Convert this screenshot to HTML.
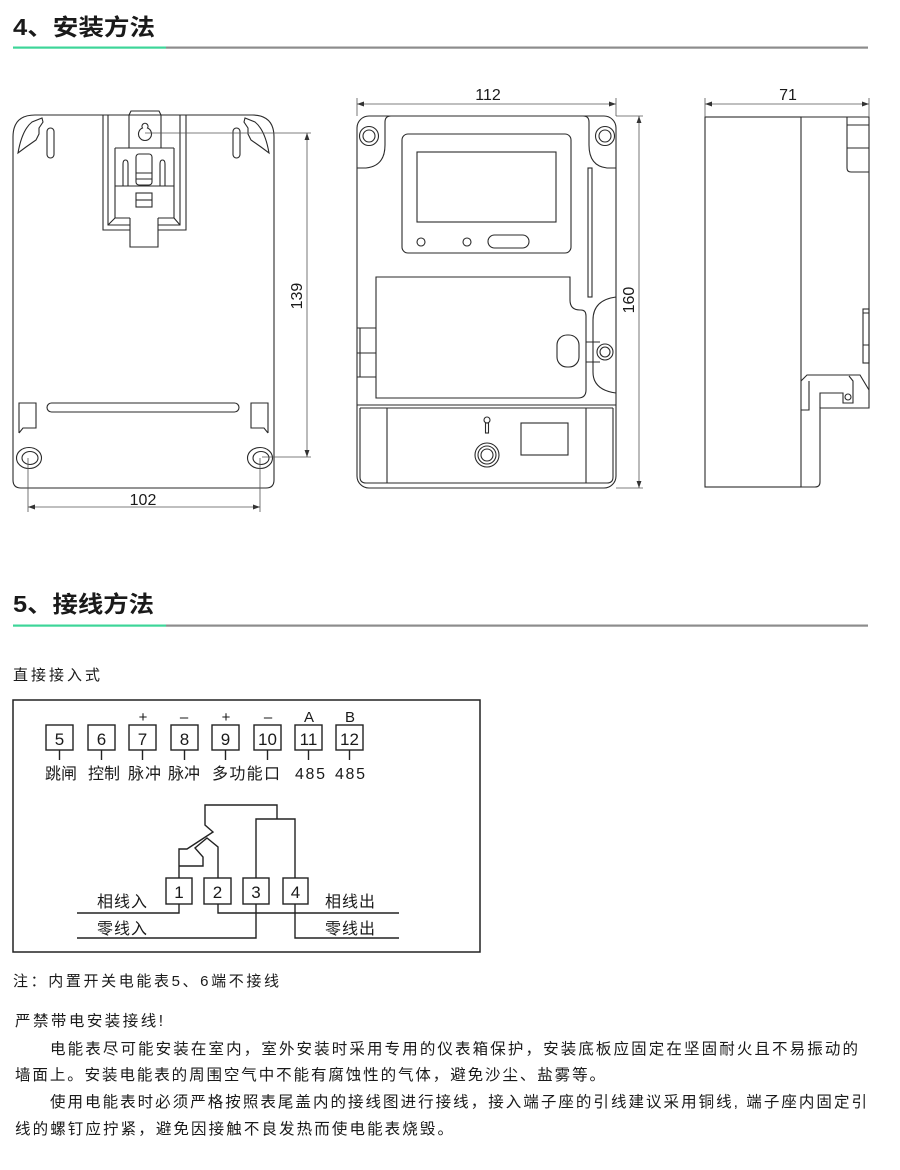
<!DOCTYPE html>
<html><head><meta charset="utf-8"><style>
html,body{margin:0;padding:0;background:#fff;}
svg{display:block;}
text{font-family:"Liberation Sans","Noto Sans CJK SC",sans-serif;fill:#1a1a1a;}
.d{fill:none;stroke:#2a2a2a;stroke-width:1.1;}
.m{fill:none;stroke:#555;stroke-width:0.8;}
.w{fill:none;stroke:#222;stroke-width:1.4;}
</style></head><body>
<svg width="900" height="1170" viewBox="0 0 900 1170" xmlns="http://www.w3.org/2000/svg">
<defs>
<marker id="ar" viewBox="0 0 10 10" refX="10" refY="5" markerWidth="7" markerHeight="7" orient="auto-start-reverse" markerUnits="userSpaceOnUse">
<path d="M0,1.5 L10,5 L0,8.5 Z" fill="#333"/>
</marker>
</defs>

<!-- Heading 4 -->
<text x="13" y="35" font-size="23" font-weight="bold" textLength="142" lengthAdjust="spacingAndGlyphs">4、安装方法</text>
<rect x="13" y="46.5" width="153" height="2.2" fill="#3dd598"/>
<rect x="166" y="46.5" width="702" height="2.2" fill="#8c8c8c"/>

<!-- LEFT DRAWING -->
<g class="d">
<path d="M13,137 Q13,115 35,115 L252,115 Q274,115 274,137 L274,480 Q274,488 266,488 L21,488 Q13,488 13,480 Z"/>
<path d="M18,153 Q22,130 32,122 L42,118 L43,122 L39,128 L39,134 L36,140 L26,147 Z"/>
<path d="M269,153 Q265,130 255,122 L245,118 L244,122 L248,128 L248,134 L251,140 L261,147 Z"/>
<rect x="47" y="128" width="7" height="30" rx="3.5"/>
<rect x="233" y="128" width="7" height="30" rx="3.5"/>
<!-- clip -->
<path d="M103,115 L103,230 L130,230 M158,230 L186,230 L186,115"/>
<path d="M108,115 L108,225 L130,225 M158,225 L180,225 L180,115"/>
<path d="M115,148 L115,218 L130,218 M158,218 L174,218 L174,148 M115,148 L174,148"/>
<path d="M108,225 L115,218 M180,225 L174,218"/>
<path d="M129,148 L129,115 M161,115 L161,148 M129,115 L131,111 L159,111 L161,115"/>
<path d="M142.5,128 A3,3 0 1 1 147.5,128 A6.5,6.5 0 1 1 142.5,128 Z"/>
<path d="M123,186 L123,164 Q123,160 125.5,160 Q128,160 128,164 L128,186 M160,186 L160,164 Q160,160 162.5,160 Q165,160 165,164 L165,186 M115,186 L174,186"/>
<rect x="136" y="154" width="16" height="31" rx="3"/>
<path d="M136,173 L152,173 M136,179 L152,179"/>
<rect x="136" y="193" width="16" height="14"/>
<path d="M136,200 L152,200"/>
<path d="M130,218 L130,247 L158,247 L158,218"/>
<rect x="47" y="403" width="192" height="9" rx="4.5"/>
<path d="M19,433 L19,403 L36,403 L36,428 L23,428 L19,433"/>
<path d="M268,433 L268,403 L251,403 L251,428 L264,428 L268,433"/>
<ellipse cx="29" cy="458" rx="12.5" ry="10.5"/>
<ellipse cx="30" cy="458" rx="8" ry="6.5"/>
<ellipse cx="260" cy="458" rx="12.5" ry="10.5"/>
<ellipse cx="261" cy="458" rx="8" ry="6.5"/>
</g>
<g class="m">
<line x1="307" y1="133" x2="307" y2="457" marker-start="url(#ar)" marker-end="url(#ar)"/>
<path d="M145,133 L311,133 M262,457 L311,457"/>
<line x1="28" y1="507" x2="260" y2="507" marker-start="url(#ar)" marker-end="url(#ar)"/>
<path d="M28,458 L28,512 M260,458 L260,512"/>
</g>
<text x="296" y="302" font-size="16" text-anchor="middle" transform="rotate(-90 296 296)">139</text>
<text x="143" y="505" font-size="16" text-anchor="middle">102</text>

<!-- MIDDLE DRAWING -->
<g class="d">
<rect x="357" y="116" width="259" height="372" rx="12"/>
<path d="M357,168 L366,168 Q385,166 385,145 L385,122 Q385,116 391,116"/>
<path d="M616,168 L607,168 Q589,166 589,145 L589,122 Q589,116 583,116"/>
<circle cx="369" cy="136" r="9.5"/><circle cx="369" cy="136" r="6"/>
<circle cx="605" cy="136" r="9.5"/><circle cx="605" cy="136" r="6"/>
<rect x="402" y="134" width="169" height="119" rx="6"/>
<rect x="417" y="152" width="139" height="70"/>
<circle cx="421" cy="242" r="4"/>
<circle cx="467" cy="242" r="4"/>
<rect x="488" y="235" width="41" height="13" rx="6.5"/>
<rect x="588" y="168" width="4" height="129"/>
<path d="M376,277 L570,277 L570,300 Q570,310 580,310 L581,310 Q586,310 586,316 L586,390 Q586,398 578,398 L376,398 Z"/>
<rect x="557" y="335" width="22" height="32" rx="10"/>
<path d="M586,342 L600,342 M586,362 L600,362"/>
<circle cx="605" cy="352" r="8"/><circle cx="605" cy="352" r="5"/>
<path d="M616,297 Q593,300 593,320 L593,372 Q593,390 616,393"/>
<path d="M357,328 L376,328 M357,353 L376,353 M357,377 L376,377 M360,328 L360,377"/>
<path d="M357,405 L616,405"/>
<path d="M360,408 L613,408 M360,408 L360,477 Q360,483 366,483 L607,483 Q613,483 613,477 L613,408"/>
<path d="M387,408 L387,483 M586,408 L586,483"/>
<circle cx="487" cy="420" r="3"/>
<rect x="485.5" y="423" width="3" height="10"/>
<circle cx="487" cy="455" r="12"/><circle cx="487" cy="455" r="9"/><circle cx="487" cy="455" r="6"/>
<rect x="521" y="423" width="47" height="32"/>
</g>
<g class="m">
<line x1="357" y1="104" x2="616" y2="104" marker-start="url(#ar)" marker-end="url(#ar)"/>
<path d="M357,98 L357,116 M616,98 L616,116"/>
<line x1="639" y1="116" x2="639" y2="488" marker-start="url(#ar)" marker-end="url(#ar)"/>
<path d="M616,116 L643,116 M616,488 L643,488"/>
</g>
<text x="488" y="100" font-size="16" text-anchor="middle">112</text>
<text x="628" y="306" font-size="16" text-anchor="middle" transform="rotate(-90 628 300)">160</text>

<!-- RIGHT DRAWING -->
<g class="d">
<rect x="705" y="117" width="96" height="370"/>
<path d="M801,117 L869,117 L869,408 L820,408 L820,482 Q820,487 815,487 L801,487"/>
<path d="M847,117 L847,168 Q847,172 851,172 L869,172 M847,125 L869,125 M847,148 L869,148"/>
<rect x="863" y="309" width="6" height="54"/>
<path d="M863,313 L869,313 M863,345 L869,345"/>
<path d="M801,381 L807,375 L860,375 L869,390"/>
<path d="M801,410 L809,410 L809,381"/>
<path d="M820,408 L820,393 L843,393 L843,403 L853,403 L853,381 L849,376"/>
<circle cx="848" cy="397" r="3"/>
</g>
<g class="m">
<line x1="705" y1="104" x2="869" y2="104" marker-start="url(#ar)" marker-end="url(#ar)"/>
<path d="M705,98 L705,117 M869,98 L869,117"/>
</g>
<text x="788" y="100" font-size="16" text-anchor="middle">71</text>

<!-- Heading 5 -->
<text x="13" y="612" font-size="23" font-weight="bold" textLength="141" lengthAdjust="spacingAndGlyphs">5、接线方法</text>
<rect x="13" y="624.5" width="153" height="2.2" fill="#3dd598"/>
<rect x="166" y="624.5" width="702" height="2.2" fill="#8c8c8c"/>

<text x="13" y="680" font-size="15" textLength="87" lengthAdjust="spacing">直接接入式</text>

<!-- Wiring box -->
<rect x="13" y="700" width="467" height="252" fill="none" stroke="#222" stroke-width="1.5"/>

<g class="w">
<rect x="46" y="725" width="27" height="25"/>
<rect x="88" y="725" width="27" height="25"/>
<rect x="129" y="725" width="27" height="25"/>
<rect x="171" y="725" width="27" height="25"/>
<rect x="212" y="725" width="27" height="25"/>
<rect x="254" y="725" width="27" height="25"/>
<rect x="295" y="725" width="27" height="25"/>
<rect x="336" y="725" width="27" height="25"/>
<path d="M59.5,750 L59.5,760 M101.5,750 L101.5,760 M142.5,750 L142.5,760 M184.5,750 L184.5,760 M225.5,750 L225.5,760 M267.5,750 L267.5,760 M308.5,750 L308.5,760 M349.5,750 L349.5,760"/>
</g>
<g font-size="17" text-anchor="middle">
<text x="59.5" y="745">5</text>
<text x="101.5" y="745">6</text>
<text x="142.5" y="745">7</text>
<text x="184.5" y="745">8</text>
<text x="225.5" y="745">9</text>
<text x="267.5" y="745">10</text>
<text x="308.5" y="745">11</text>
<text x="349.5" y="745">12</text>
</g>
<g font-size="15" text-anchor="middle">
<text x="143" y="722">+</text>
<text x="184" y="722">–</text>
<text x="226" y="722">+</text>
<text x="268" y="722">–</text>
<text x="309" y="722">A</text>
<text x="350" y="722">B</text>
</g>
<g font-size="16">
<text x="45" y="779" textLength="32" lengthAdjust="spacing">跳闸</text>
<text x="88" y="779" textLength="32" lengthAdjust="spacing">控制</text>
<text x="128" y="779" textLength="33" lengthAdjust="spacing">脉冲</text>
<text x="168" y="779" textLength="32" lengthAdjust="spacing">脉冲</text>
<text x="212" y="779" textLength="68" lengthAdjust="spacing">多功能口</text>
<text x="295" y="779" textLength="30" lengthAdjust="spacing">485</text>
<text x="335" y="779" textLength="30" lengthAdjust="spacing">485</text>
</g>

<!-- Bottom wiring -->
<g class="w">
<rect x="166" y="878" width="26" height="26"/>
<rect x="204" y="878" width="27" height="26"/>
<rect x="243" y="878" width="26" height="26"/>
<rect x="283" y="878" width="25" height="26"/>
<path d="M77,913 L179,913 L179,904"/>
<path d="M218,904 L218,913 L399,913"/>
<path d="M77,938 L256,938 L256,904"/>
<path d="M295,904 L295,938 L399,938"/>
<path d="M256,878 L256,819 L295,819 L295,878"/>
<path d="M277,819 L277,805 L205,805 L205,825 L213,832 L187,849 L179,849 L179,878"/>
<path d="M179,866 L203,866 L203,857 L195,848 L207,838 L218,847 L218,878"/>
</g>
<g font-size="17" text-anchor="middle">
<text x="179" y="898">1</text>
<text x="217.5" y="898">2</text>
<text x="256" y="898">3</text>
<text x="295.5" y="898">4</text>
</g>
<g font-size="16">
<text x="97" y="907" textLength="50" lengthAdjust="spacing">相线入</text>
<text x="97" y="934" textLength="50" lengthAdjust="spacing">零线入</text>
<text x="325" y="907" textLength="50" lengthAdjust="spacing">相线出</text>
<text x="325" y="934" textLength="50" lengthAdjust="spacing">零线出</text>
</g>

<text x="13" y="986" font-size="15" textLength="266" lengthAdjust="spacing">注：内置开关电能表5、6端不接线</text>

<g font-size="15.5">
<text x="15" y="1026" textLength="148" lengthAdjust="spacing">严禁带电安装接线!</text>
<text x="50" y="1054" textLength="808" lengthAdjust="spacing">电能表尽可能安装在室内，室外安装时采用专用的仪表箱保护，安装底板应固定在坚固耐火且不易振动的</text>
<text x="15" y="1080" textLength="590" lengthAdjust="spacing">墙面上。安装电能表的周围空气中不能有腐蚀性的气体，避免沙尘、盐雾等。</text>
<text x="50" y="1107" textLength="817" lengthAdjust="spacing">使用电能表时必须严格按照表尾盖内的接线图进行接线，接入端子座的引线建议采用铜线, 端子座内固定引</text>
<text x="15" y="1134" textLength="438" lengthAdjust="spacing">线的螺钉应拧紧，避免因接触不良发热而使电能表烧毁。</text>
</g>
</svg>
</body></html>
